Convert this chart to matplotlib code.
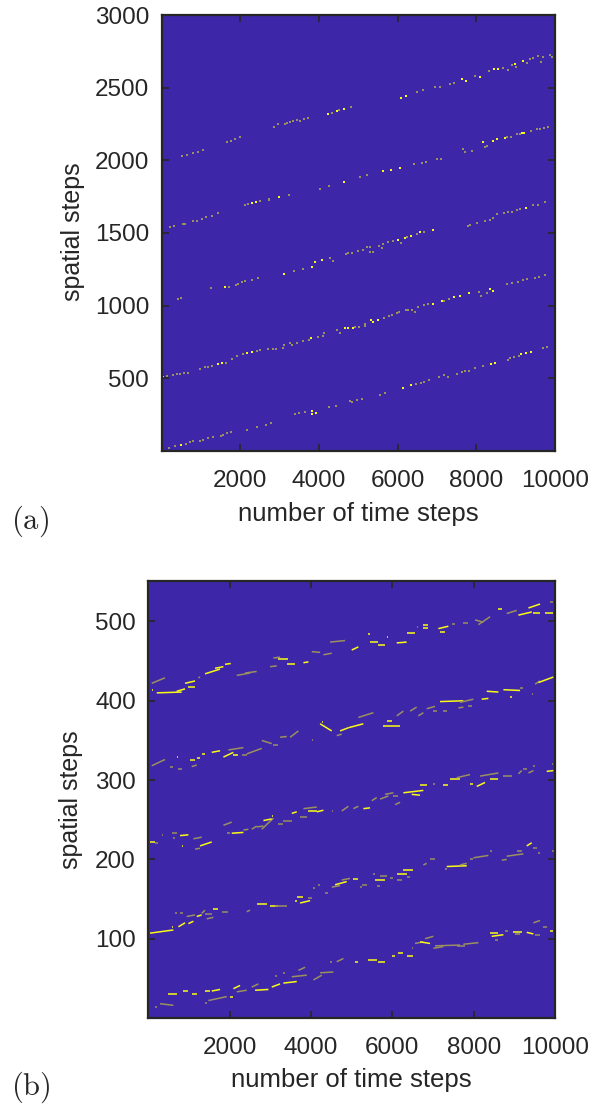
import matplotlib
matplotlib.use('Agg')
import matplotlib.pyplot as plt
from matplotlib.collections import LineCollection

plt.rcParams['font.family'] = ['Liberation Sans', 'DejaVu Sans']
plt.rcParams['mathtext.fontset'] = 'cm'

BG = '#3E26A8'
BRIGHT = '#F9FB15'
DIM = '#9A9060'
INK = '#262626'

# ---------------- panel (a): sampled points (time step, spatial step, bright?) ----
a_track1 = [(194, 23, 0), (338, 36, 0), (491, 43, 1), (618, 50, 0), (720, 62, 0), (788, 66, 0),
            (974, 71, 0), (1042, 78, 0), (1186, 87, 0), (1313, 96, 0), (1500, 103, 0), (1568, 112, 0),
            (1669, 121, 0), (1754, 130, 0), (2161, 144, 0), (2432, 163, 0), (2652, 179, 0),
            (2771, 190, 0), (3390, 254, 0), (3491, 259, 0), (3644, 270, 0), (3813, 277, 1),
            (3813, 254, 1), (3924, 264, 1), (4263, 300, 0), (4432, 312, 0), (4788, 344, 0),
            (4848, 335, 0), (4958, 351, 0), (5085, 358, 0), (5551, 385, 0), (5678, 397, 0),
            (6144, 431, 1), (6331, 452, 1), (6458, 461, 0), (6585, 470, 0), (6670, 472, 0),
            (6797, 491, 0), (7051, 511, 0), (7178, 523, 0), (7288, 507, 0), (7517, 532, 0),
            (7628, 543, 0), (7712, 550, 0), (7823, 550, 0), (7967, 571, 0), (8162, 585, 0),
            (8365, 596, 1), (8475, 603, 1), (8797, 624, 0), (8857, 637, 0), (8959, 647, 0),
            (9094, 653, 0), (9136, 665, 1), (9264, 672, 1), (9390, 679, 1), (9687, 706, 0),
            (9806, 715, 0)]
a_track2 = [(43, 511, 1), (128, 518, 0), (298, 520, 0), (383, 527, 0), (468, 530, 0), (578, 534, 0),
            (680, 539, 0), (976, 566, 0), (1103, 578, 0), (1188, 580, 0), (1273, 585, 0),
            (1442, 598, 1), (1527, 608, 1), (1629, 608, 0), (1779, 631, 0), (1923, 656, 0),
            (2076, 665, 0), (2161, 672, 1), (2288, 681, 1), (2432, 688, 0), (2500, 695, 0),
            (2712, 699, 0), (2822, 704, 0), (2907, 704, 0), (3076, 711, 0), (3118, 729, 0),
            (3262, 741, 0), (3305, 727, 0), (3432, 745, 0), (3584, 754, 0), (3754, 764, 0),
            (3788, 777, 1), (3983, 787, 0), (4093, 793, 0), (4127, 810, 0), (4449, 832, 0),
            (4534, 814, 0), (4661, 844, 1), (4746, 844, 1), (4856, 844, 1), (4915, 853, 0),
            (5025, 855, 0), (5169, 874, 0), (5169, 860, 0), (5314, 899, 1), (5382, 890, 1),
            (5509, 901, 1), (5661, 917, 0), (5788, 931, 0), (5848, 936, 0), (5975, 947, 0),
            (6034, 956, 0), (6212, 968, 0), (6272, 970, 0), (6373, 972, 0), (6441, 954, 0),
            (6526, 988, 0), (6670, 1002, 0), (6763, 1009, 0), (6907, 1011, 1), (7119, 1032, 1),
            (7187, 1034, 0), (7306, 1046, 0), (7433, 1057, 1), (7585, 1066, 1), (7823, 1085, 1),
            (8068, 1096, 0), (8119, 1066, 0), (8280, 1089, 0), (8348, 1117, 1), (8433, 1099, 1),
            (8772, 1147, 0), (8899, 1158, 0), (9052, 1163, 0), (9196, 1177, 0), (9297, 1183, 0),
            (9492, 1193, 0), (9603, 1200, 0), (9747, 1211, 0)]
a_track3 = [(423, 1044, 0), (491, 1050, 0), (1245, 1119, 0), (1610, 1131, 1), (1720, 1131, 0),
            (1889, 1140, 0), (1949, 1149, 0), (2033, 1163, 0), (2118, 1170, 0), (2288, 1177, 0),
            (2457, 1188, 0), (3118, 1218, 1), (3364, 1238, 0), (3584, 1250, 0), (3830, 1266, 1),
            (3898, 1298, 1), (4068, 1312, 1), (4280, 1326, 0), (4347, 1307, 0), (4686, 1358, 0),
            (4746, 1365, 0), (4830, 1365, 0), (5000, 1378, 0), (5127, 1385, 0), (5212, 1401, 0),
            (5297, 1401, 0), (5297, 1367, 0), (5364, 1369, 0), (5525, 1413, 0), (5593, 1395, 0),
            (5636, 1424, 0), (5763, 1436, 0), (5873, 1445, 0), (6017, 1450, 1), (6077, 1434, 0),
            (6187, 1463, 1), (6246, 1475, 0), (6331, 1482, 1), (6483, 1491, 0), (6568, 1505, 1),
            (6670, 1509, 0), (6890, 1521, 1), (7797, 1548, 0), (7840, 1555, 0), (8009, 1566, 0),
            (8221, 1580, 0), (8348, 1589, 0), (8433, 1601, 0), (8535, 1633, 0), (8713, 1640, 0),
            (8814, 1644, 0), (8899, 1647, 0), (9026, 1658, 0), (9111, 1665, 0), (9264, 1674, 1),
            (9433, 1692, 0), (9577, 1692, 0), (9747, 1711, 0)]
a_track4 = [(211, 1539, 0), (313, 1546, 0), (533, 1564, 0), (593, 1564, 0), (804, 1582, 0),
            (889, 1585, 0), (1016, 1598, 0), (1126, 1612, 0), (1270, 1617, 0), (1440, 1637, 0),
            (2118, 1692, 0), (2186, 1699, 0), (2288, 1706, 1), (2398, 1711, 1), (2499, 1718, 0),
            (2728, 1731, 0), (2991, 1745, 1), (3245, 1759, 0), (4025, 1805, 0), (4254, 1821, 0),
            (4644, 1851, 1), (5042, 1885, 0), (5212, 1899, 0), (5636, 1924, 1), (5822, 1933, 1),
            (6060, 1945, 1), (6416, 1972, 0), (6628, 1979, 0), (6721, 1986, 0), (7009, 2011, 0),
            (7102, 2011, 0), (7670, 2076, 0), (7712, 2055, 0), (7882, 2064, 0), (8179, 2124, 1),
            (8221, 2094, 0), (8263, 2099, 0), (8416, 2135, 1), (8535, 2147, 1), (8730, 2154, 1),
            (8789, 2158, 0), (8882, 2163, 0), (9026, 2179, 0), (9111, 2183, 0), (9153, 2190, 1),
            (9221, 2186, 1), (9390, 2204, 0), (9535, 2213, 0), (9620, 2216, 0), (9721, 2225, 0),
            (9832, 2232, 0)]
a_track5 = [(508, 2032, 0), (635, 2039, 0), (805, 2053, 0), (932, 2060, 0), (1058, 2069, 0),
            (1669, 2126, 0), (1754, 2133, 0), (1864, 2144, 0), (1991, 2158, 0), (2856, 2232, 0),
            (2949, 2252, 0), (3135, 2252, 0), (3194, 2259, 0), (3262, 2266, 0), (3347, 2273, 0),
            (3432, 2278, 0), (3517, 2273, 0), (3618, 2287, 0), (3728, 2291, 0), (4220, 2321, 1),
            (4339, 2328, 0), (4449, 2339, 1), (4508, 2346, 0), (4644, 2351, 1), (4813, 2365, 0),
            (6076, 2431, 1), (6203, 2443, 1), (6483, 2472, 0), (6636, 2484, 0), (6950, 2502, 0),
            (7077, 2507, 0), (7331, 2525, 0), (7441, 2534, 0), (7628, 2557, 1), (7738, 2546, 1),
            (7967, 2583, 0), (8094, 2571, 1), (8331, 2617, 0), (8458, 2626, 1), (8560, 2631, 1),
            (8687, 2638, 0), (8797, 2624, 0), (8899, 2656, 0), (8984, 2663, 1), (9009, 2640, 0),
            (9179, 2686, 1), (9298, 2667, 0), (9365, 2695, 0), (9450, 2706, 0), (9577, 2720, 0),
            (9637, 2679, 0), (9704, 2711, 0), (9874, 2725, 0), (9933, 2713, 0)]

# ---------------- panel (b): streaks (t0, t1, s0, s1, bright?) ----------------
b_track1 = [(165, 206, 14, 14, 0), (288, 616, 18, 16, 0), (493, 698, 30, 30, 1), (862, 985, 34, 34, 1),
            (1067, 1190, 30, 30, 1), (1395, 1518, 34, 34, 1), (1395, 1436, 19, 19, 0),
            (1477, 1928, 22, 27, 0), (1559, 1764, 34, 36, 1), (2010, 2092, 27, 27, 1),
            (2092, 2256, 37, 41, 1), (2174, 2420, 33, 35, 0), (2543, 2707, 39, 43, 0),
            (2625, 2953, 35, 36, 1), (3035, 3240, 39, 43, 1), (3117, 3158, 53, 53, 0),
            (3322, 3650, 44, 46, 1), (3527, 3896, 52, 54, 0), (3322, 3363, 57, 57, 0),
            (3691, 3855, 60, 64, 0), (4060, 4265, 48, 54, 0), (4224, 4551, 57, 58, 0),
            (4469, 4510, 70, 70, 0), (4633, 4797, 71, 75, 0), (5083, 5165, 70, 70, 1),
            (5411, 5616, 73, 73, 1), (5657, 5821, 71, 71, 1), (5985, 6067, 78, 78, 1),
            (6149, 6272, 82, 82, 1), (6353, 6518, 78, 78, 1), (6477, 6518, 88, 88, 0),
            (6558, 6763, 94, 96, 0), (6681, 6927, 96, 94, 1), (6804, 7009, 100, 103, 0),
            (7009, 7255, 88, 90, 0), (7050, 7665, 91, 92, 0), (7583, 7788, 91, 91, 0),
            (7747, 8116, 93, 95, 0), (8403, 8608, 107, 107, 1), (8444, 8731, 103, 105, 1),
            (8526, 8608, 98, 98, 0), (8772, 8854, 110, 110, 0), (8977, 9182, 109, 109, 1),
            (9018, 9141, 106, 106, 0), (9305, 9469, 108, 106, 1), (9469, 9632, 120, 123, 0),
            (9510, 9632, 105, 105, 0), (9714, 9796, 115, 115, 0), (9878, 9960, 110, 110, 1)]
b_track2 = [(42, 616, 107, 111, 1), (575, 616, 115, 115, 1), (657, 698, 133, 133, 0),
            (739, 903, 115, 120, 1), (780, 862, 132, 132, 0), (944, 1149, 128, 130, 0),
            (985, 1108, 119, 122, 1), (1190, 1313, 128, 130, 1), (1313, 1395, 132, 136, 0),
            (1395, 1559, 131, 131, 0), (1436, 1600, 125, 127, 0), (1600, 1723, 138, 138, 1),
            (1805, 1969, 134, 134, 0), (2420, 2502, 134, 136, 0), (2666, 2912, 144, 144, 1),
            (2994, 3199, 141, 141, 1), (3117, 3404, 141, 141, 0), (3609, 3650, 147, 147, 1),
            (3650, 3814, 153, 153, 1), (3732, 3978, 145, 148, 1), (3937, 4019, 151, 151, 0),
            (4060, 4101, 164, 164, 0), (4183, 4224, 168, 168, 0), (4346, 4428, 157, 157, 0),
            (4510, 4715, 165, 167, 0), (4592, 4879, 168, 172, 1), (4756, 4960, 174, 176, 0),
            (5042, 5165, 175, 175, 1), (5206, 5247, 165, 165, 0), (5247, 5370, 168, 168, 0),
            (5534, 5575, 181, 181, 0), (5575, 5821, 174, 174, 1), (5616, 5698, 167, 167, 0),
            (5698, 5862, 179, 179, 0), (5944, 6026, 176, 176, 0), (6108, 6231, 174, 174, 0),
            (6124, 6353, 182, 182, 1), (6272, 6518, 186, 186, 1), (6353, 6436, 178, 178, 0),
            (6763, 6845, 193, 195, 0), (6927, 7050, 200, 200, 0), (7296, 7337, 188, 188, 0),
            (7337, 7829, 191, 192, 1), (7665, 7829, 193, 195, 0), (7911, 7993, 200, 200, 0),
            (7993, 8362, 202, 205, 0), (8403, 8444, 211, 211, 0), (8690, 8813, 199, 200, 0),
            (8813, 9223, 204, 207, 0), (9059, 9182, 211, 211, 0), (9305, 9428, 217, 221, 1),
            (9469, 9550, 214, 214, 0), (9592, 9632, 208, 208, 0), (9919, 10000, 210, 210, 0)]
b_track3 = [(42, 165, 222, 222, 1), (165, 247, 221, 221, 0), (329, 370, 231, 231, 0),
            (575, 698, 233, 233, 0), (616, 657, 227, 227, 0), (780, 985, 230, 231, 1),
            (821, 862, 217, 217, 1), (1108, 1313, 226, 228, 0), (1149, 1272, 213, 214, 0),
            (1272, 1559, 217, 222, 1), (1846, 2051, 243, 247, 0), (1928, 2010, 233, 233, 0),
            (2051, 2338, 233, 234, 1), (2338, 2461, 237, 238, 0), (2543, 2666, 238, 242, 0),
            (2666, 2830, 241, 242, 0), (2789, 3076, 238, 252, 0), (2830, 3035, 249, 251, 1),
            (3035, 3076, 255, 255, 1), (3199, 3322, 245, 245, 0), (3322, 3527, 248, 248, 0),
            (3527, 3650, 258, 260, 1), (3732, 3896, 254, 254, 0), (3814, 4142, 264, 266, 0),
            (3937, 4142, 261, 261, 1), (4142, 4306, 260, 262, 1), (4510, 4551, 261, 261, 0),
            (4756, 4919, 261, 267, 0), (5042, 5165, 264, 267, 0), (5288, 5452, 264, 265, 1),
            (5493, 5616, 274, 278, 0), (5698, 5903, 276, 280, 0), (6026, 6149, 280, 280, 0),
            (6067, 6190, 269, 272, 0), (6477, 6681, 282, 281, 1), (5821, 6026, 282, 284, 0),
            (6272, 6763, 284, 287, 1), (6681, 6845, 294, 294, 1), (7009, 7050, 295, 295, 0),
            (7255, 7378, 294, 294, 1), (7419, 7665, 302, 302, 1), (7583, 7911, 303, 307, 0),
            (7911, 7993, 295, 295, 1), (8075, 8280, 292, 297, 1), (8157, 8608, 305, 309, 0),
            (8403, 8608, 302, 302, 1), (8731, 8936, 305, 305, 0), (9100, 9182, 308, 312, 0),
            (9223, 9305, 314, 314, 0), (9346, 9469, 309, 312, 0), (9469, 9510, 318, 318, 0),
            (9796, 9960, 311, 312, 1), (9919, 9960, 320, 320, 0)]
b_track4 = [(83, 411, 318, 326, 0), (534, 616, 317, 317, 0), (698, 739, 329, 329, 1),
            (739, 821, 314, 314, 0), (1026, 1149, 325, 325, 1), (1067, 1190, 317, 319, 0),
            (1190, 1272, 328, 328, 1), (1313, 1395, 333, 333, 1), (1559, 1764, 335, 337, 1),
            (1846, 2092, 329, 335, 1), (1969, 2338, 338, 341, 0), (2092, 2215, 332, 332, 1),
            (2297, 2420, 332, 332, 0), (2420, 2789, 333, 340, 0), (2789, 3035, 350, 346, 0),
            (3076, 3199, 344, 344, 0), (3240, 3404, 354, 355, 0), (3486, 3691, 354, 362, 0),
            (4019, 4044, 350, 350, 0), (4224, 4510, 371, 362, 1), (4265, 4306, 373, 373, 1),
            (4633, 4756, 356, 358, 0), (4715, 4919, 362, 366, 1), (4919, 5288, 366, 371, 1),
            (5165, 5534, 379, 385, 0), (5780, 6190, 368, 368, 1), (5862, 5985, 375, 375, 1),
            (6108, 6272, 381, 387, 0), (6436, 6599, 387, 392, 0), (6640, 6763, 381, 385, 0),
            (6845, 7050, 390, 393, 0), (7009, 7091, 387, 387, 0), (7173, 7747, 399, 400, 1),
            (7255, 7337, 387, 387, 0), (7624, 7747, 391, 392, 0), (7665, 7993, 398, 402, 0),
            (7870, 7952, 393, 393, 0), (8198, 8362, 402, 403, 1), (8321, 8608, 412, 411, 1),
            (8731, 9141, 414, 413, 1), (8895, 8936, 405, 405, 1), (9141, 9223, 416, 416, 0),
            (9428, 9469, 409, 409, 0), (9510, 9632, 421, 425, 0), (9592, 9960, 423, 430, 1)]
b_track5 = [(83, 411, 422, 429, 0), (83, 124, 414, 414, 1), (206, 821, 410, 411, 1),
            (698, 903, 412, 415, 1), (903, 1149, 422, 425, 1), (985, 1149, 418, 418, 1),
            (1231, 1272, 429, 430, 0), (1395, 1764, 434, 440, 1), (1641, 1846, 441, 443, 1),
            (1887, 2026, 446, 447, 1), (2174, 2502, 432, 435, 0), (2379, 2666, 435, 437, 0),
            (2994, 3158, 443, 444, 0), (3076, 3240, 454, 455, 0), (3199, 3445, 453, 453, 1),
            (3404, 3609, 447, 447, 1), (3814, 3937, 448, 449, 1), (4019, 4224, 462, 461, 0),
            (4306, 4510, 458, 460, 0), (4469, 4838, 474, 476, 0), (5001, 5165, 464, 468, 1),
            (5452, 5657, 474, 474, 1), (5657, 5821, 470, 470, 1), (5411, 5452, 484, 484, 1),
            (5862, 5903, 480, 480, 1), (6108, 6353, 473, 474, 1), (6353, 6558, 485, 485, 1),
            (6599, 6640, 493, 493, 0), (6763, 6886, 495, 495, 1), (6763, 6886, 492, 492, 1),
            (7132, 7378, 491, 494, 1), (7173, 7296, 487, 487, 1), (7460, 7542, 497, 497, 0),
            (7747, 7870, 498, 498, 0), (8034, 8239, 502, 499, 0), (8116, 8403, 496, 506, 0),
            (8608, 8690, 516, 516, 1), (8813, 9059, 510, 514, 0), (9100, 9428, 508, 512, 1),
            (9346, 9632, 517, 522, 1), (9469, 9632, 511, 511, 1), (9755, 9960, 511, 511, 1),
            (9878, 9960, 525, 525, 0)]

x_ticks = [2000, 4000, 6000, 8000, 10000]
a_yticks = [500, 1000, 1500, 2000, 2500, 3000]
b_yticks = [100, 200, 300, 400, 500]
x_label = 'number of time steps'
y_label = 'spatial steps'


def style(ax, ylim, yticks, xlab_y, ylab_pos):
    ax.set_facecolor(BG)
    ax.set_xlim(0, 10000)
    ax.set_ylim(*ylim)
    ax.set_xticks(x_ticks)
    ax.set_yticks(yticks)
    ax.tick_params(direction='in', length=5, width=1.2, color=INK, labelcolor=INK,
                   labelsize=17.5, top=True, right=True)
    ax.tick_params(axis='x', pad=14)
    ax.tick_params(axis='y', pad=9)
    for s in ax.spines.values():
        s.set_linewidth(1.6)
        s.set_color(INK)
    ax.set_xlabel(x_label, fontsize=18.5, color=INK)
    ax.set_ylabel(y_label, fontsize=18, color=INK)
    ax.xaxis.label.set_va('center')
    ax.yaxis.label.set_va('center')
    ax.xaxis.set_label_coords(0.5, xlab_y)
    ax.yaxis.set_label_coords(*ylab_pos)


fig = plt.figure(figsize=(5.9, 11.04), dpi=100)
axA = fig.add_axes([0.274, 0.5915, 0.6666, 0.3949])
axB = fig.add_axes([0.2514, 0.0779, 0.6893, 0.3958])

for track in [a_track1, a_track2, a_track3, a_track4, a_track5]:
    xs = [p[0] for p in track]
    ys = [p[1] for p in track]
    cs = [BRIGHT if p[2] else DIM for p in track]
    axA.scatter(xs, ys, s=2.4, marker='s', c=cs, linewidths=0)

for track in [b_track1, b_track2, b_track3, b_track4, b_track5]:
    segs = [[(t[0], t[2]), (t[1], t[3])] for t in track]
    cols = [BRIGHT if t[4] else DIM for t in track]
    axB.add_collection(LineCollection(segs, colors=cols, linewidths=1.1, capstyle='butt'))

style(axA, (0, 3000), a_yticks, -0.1445, (-0.2255, 0.502))
style(axB, (0, 551), b_yticks, -0.142, (-0.190, 0.499))

fig.text(0.0517, 0.528, r'$\mathrm{(a)}$', fontsize=22, ha='center', va='center', color=INK)
fig.text(0.0517, 0.0154, r'$\mathrm{(b)}$', fontsize=22, ha='center', va='center', color=INK)

fig.savefig('out.png', dpi=100)
